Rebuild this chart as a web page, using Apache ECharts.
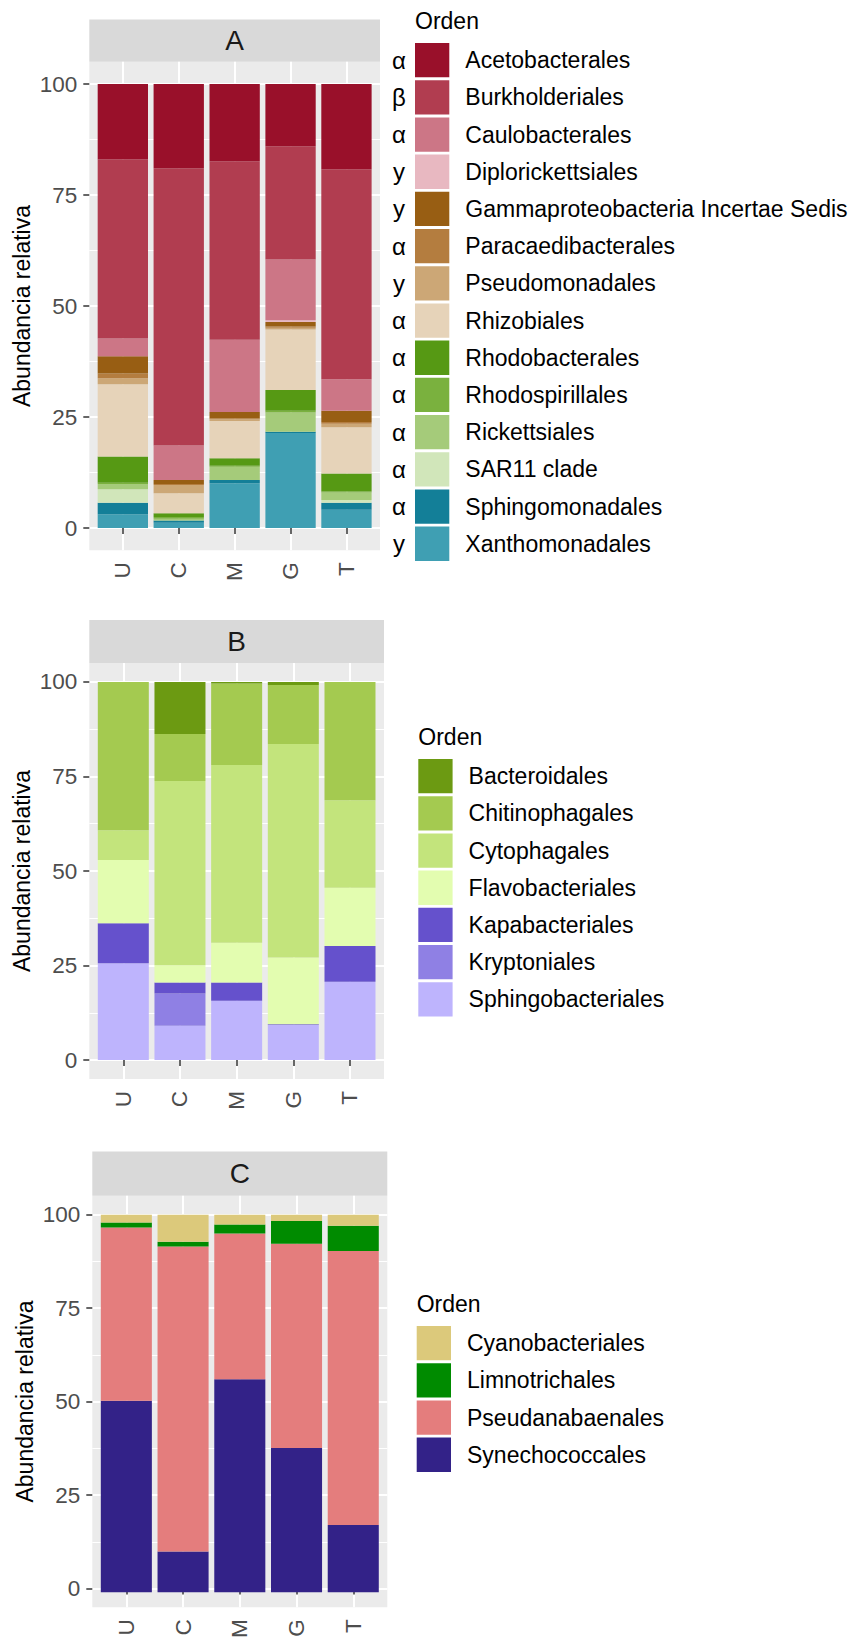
<!DOCTYPE html>
<html>
<head>
<meta charset="utf-8">
<title>Abundancia relativa por orden</title>
<script src="https://cdn.jsdelivr.net/npm/echarts@6/dist/echarts.min.js"></script>
<style>
  html, body { margin: 0; padding: 0; background: #ffffff; }
  #chart { width: 853px; height: 1641px; }
</style>
</head>
<body>
<div id="chart"></div>
<script>
// Sampling sites (x categories, same for all panels)
const sites = ['U', 'C', 'M', 'G', 'T'];
const yTicks = [0, 25, 50, 75, 100];
const yMinorTicks = [12.5, 37.5, 62.5, 87.5];

// ---- Panel A: Proteobacteria orders (legend order = top of stack first) ----
const ordersA = [
  'Acetobacterales', 'Burkholderiales', 'Caulobacterales', 'Diplorickettsiales',
  'Gammaproteobacteria Incertae Sedis', 'Paracaedibacterales', 'Pseudomonadales',
  'Rhizobiales', 'Rhodobacterales', 'Rhodospirillales', 'Rickettsiales',
  'SAR11 clade', 'Sphingomonadales', 'Xanthomonadales'
];
const classA = ['α', 'β', 'α', 'y', 'y', 'α', 'y', 'α', 'α', 'α', 'α', 'α', 'α', 'y'];
const colorsA = [
  '#99102A', '#B13D50', '#CC7686', '#E8B8C1', '#985E13', '#B47D3F', '#CCA776',
  '#E6D3B9', '#569914', '#7AB13E', '#A5CB7A', '#D1E6BA', '#137F98', '#3F9FB3'
];
const acetobacterales   = [17.0, 19.0, 17.4, 14.0, 19.2];
const burkholderiales   = [40.3, 62.4, 40.2, 25.5, 47.3];
const caulobacterales   = [4.0, 7.8, 16.3, 13.7, 7.1];
const diplorickettsiales = [0.0, 0.0, 0.0, 0.4, 0.0];
const gammaIncertaeSedis = [3.9, 0.9, 1.4, 1.0, 2.5];
const paracaedibacterales = [1.1, 0.2, 0.2, 0.3, 0.4];
const pseudomonadales   = [1.3, 1.9, 0.4, 0.4, 0.8];
const rhizobiales       = [16.3, 4.5, 8.4, 13.6, 10.4];
const rhodobacterales   = [5.9, 0.8, 1.7, 4.7, 4.1];
const rhodospirillales  = [0.3, 0.4, 0.2, 0.4, 0.2];
const rickettsiales     = [1.2, 0.4, 3.0, 4.3, 1.7];
const sar11Clade        = [3.0, 0.0, 0.0, 0.0, 0.6];
const sphingomonadales  = [2.6, 0.5, 0.7, 0.3, 1.6];
const xanthomonadales   = [3.1, 1.2, 10.1, 21.4, 4.1];
const valuesA = [
  acetobacterales, burkholderiales, caulobacterales, diplorickettsiales,
  gammaIncertaeSedis, paracaedibacterales, pseudomonadales, rhizobiales,
  rhodobacterales, rhodospirillales, rickettsiales, sar11Clade,
  sphingomonadales, xanthomonadales
];

// ---- Panel B: Bacteroidota orders ----
const ordersB = [
  'Bacteroidales', 'Chitinophagales', 'Cytophagales', 'Flavobacteriales',
  'Kapabacteriales', 'Kryptoniales', 'Sphingobacteriales'
];
const colorsB = ['#6C9A12', '#A4CA50', '#C3E47C', '#E3FDB0', '#6551CC', '#8F80E4', '#BEB4FD'];
const bacteroidales      = [0.0, 13.8, 0.4, 0.8, 0.0];
const chitinophagales    = [39.2, 12.4, 21.6, 15.6, 31.3];
const cytophagales       = [7.9, 48.7, 47.0, 56.5, 23.1];
const flavobacteriales   = [16.7, 4.6, 10.5, 17.6, 15.4];
const kapabacteriales    = [10.6, 2.9, 4.8, 0.2, 9.5];
const kryptoniales       = [0.0, 8.5, 0.0, 0.0, 0.0];
const sphingobacteriales = [25.6, 9.1, 15.7, 9.3, 20.7];
const valuesB = [
  bacteroidales, chitinophagales, cytophagales, flavobacteriales,
  kapabacteriales, kryptoniales, sphingobacteriales
];

// ---- Panel C: Cyanobacteria orders ----
const ordersC = ['Cyanobacteriales', 'Limnotrichales', 'Pseudanabaenales', 'Synechococcales'];
const colorsC = ['#DCC97B', '#008B00', '#E47D7D', '#332288'];
const cyanobacteriales = [2.1, 7.2, 2.6, 1.7, 2.9];
const limnotrichales   = [1.3, 1.2, 2.4, 6.0, 6.7];
const pseudanabaenales = [45.9, 80.8, 38.6, 54.1, 72.6];
const synechococcales  = [50.7, 10.8, 56.4, 38.2, 17.8];
const valuesC = [cyanobacteriales, limnotrichales, pseudanabaenales, synechococcales];

// ---- Layout ----
const FONT = '"Liberation Sans", Arial, Helvetica, sans-serif';
const AXIS_GREY = '#4D4D4D';
const panels = [
  { key: 'A', orders: ordersA, values: valuesA, colors: colorsA, classes: classA,
    left: 89.3, right: 380, stripTop: 19.5, top: 61.8, bottom: 550.2,
    legendLeft: 415, legendTop: 43, legendTitleY: 21.4 },
  { key: 'B', orders: ordersB, values: valuesB, colors: colorsB, classes: null,
    left: 89.3, right: 384, stripTop: 620, top: 663, bottom: 1079,
    legendLeft: 418.3, legendTop: 759, legendTitleY: 737 },
  { key: 'C', orders: ordersC, values: valuesC, colors: colorsC, classes: null,
    left: 92.3, right: 387.3, stripTop: 1151.5, top: 1195.8, bottom: 1611.2,
    legendLeft: 416.7, legendTop: 1326, legendTitleY: 1303.8 }
];
const KEY = 34.3;
const KEY_GAP = 2.9;
// discrete x scale spans 0.4 .. 5.6 (0.6 units of padding round the 5 sites)
const X_MIN = 0.4, X_MAX = 5.6;

const grid = [], xAxis = [], yAxis = [], series = [], legend = [], graphic = [];

panels.forEach((p, pi) => {
  const w = p.right - p.left;
  const h = p.bottom - p.top;
  const unit = w / (X_MAX - X_MIN);
  const gBack = pi * 2, gBars = pi * 2 + 1;

  // panel background, grid lines, ticks and labels
  grid.push({
    left: p.left, top: p.top, width: w, height: h,
    show: true, backgroundColor: '#EBEBEB', borderWidth: 0
  });
  // bars: one band per site, inset so band centres fall on 1..5
  grid.push({
    left: p.left + (1 - 0.5 - X_MIN) * unit, top: p.top, width: 5 * unit, height: h,
    show: false
  });

  xAxis.push({
    type: 'value', gridIndex: gBack, min: X_MIN, max: X_MAX,
    axisLine: { show: false },
    axisTick: { show: true, length: 6, customValues: [1, 2, 3, 4, 5],
                lineStyle: { color: '#333333', width: 1.5 } },
    axisLabel: {
      customValues: [1, 2, 3, 4, 5],
      formatter: v => sites[Math.round(v) - 1],
      rotate: 90, margin: 12, fontSize: 22.5, color: AXIS_GREY, fontFamily: FONT
    },
    splitLine: { show: true, lineStyle: { color: '#FFFFFF', width: 2 } }
  });
  xAxis.push({
    type: 'category', gridIndex: gBars, data: sites, boundaryGap: true,
    axisLine: { show: false }, axisTick: { show: false },
    axisLabel: { show: false }, splitLine: { show: false }
  });

  // major y axis: labels, ticks, title and major grid lines
  yAxis.push({
    type: 'value', gridIndex: gBack, min: -5, max: 105,
    name: 'Abundancia relativa', nameLocation: 'middle', nameGap: 56,
    nameTextStyle: { fontSize: 23, color: '#000000', fontFamily: FONT },
    axisLine: { show: false },
    axisTick: { show: true, length: 6, customValues: yTicks,
                lineStyle: { color: '#333333', width: 1.5 } },
    axisLabel: { customValues: yTicks, margin: 12, fontSize: 22.5,
                 color: AXIS_GREY, fontFamily: FONT },
    splitLine: { show: true, lineStyle: { color: '#FFFFFF', width: 2 } }
  });
  // minor y axis: only the minor grid lines
  yAxis.push({
    type: 'value', gridIndex: gBack, min: -5, max: 105,
    axisLine: { show: false },
    axisTick: { show: false, customValues: yMinorTicks },
    axisLabel: { show: false },
    splitLine: { show: true, lineStyle: { color: '#FFFFFF', width: 1 } }
  });
  // value axis of the bars, same range as the visible one
  const yBarsIndex = yAxis.length;
  yAxis.push({
    type: 'value', gridIndex: gBars, min: -5, max: 105,
    axisLine: { show: false }, axisTick: { show: false },
    axisLabel: { show: false }, splitLine: { show: false }
  });
  const xBarsIndex = xAxis.length - 1;

  // stacked bars: last legend entry sits at the bottom of the stack
  for (let i = p.orders.length - 1; i >= 0; i--) {
    series.push({
      name: p.orders[i], type: 'bar', stack: 'panel' + p.key,
      xAxisIndex: xBarsIndex, yAxisIndex: yBarsIndex,
      barWidth: '90%',
      data: p.values[i],
      itemStyle: { color: p.colors[i] },
      emphasis: { disabled: true }
    });
  }

  legend.push({
    orient: 'vertical', left: p.legendLeft, top: p.legendTop, padding: 0,
    itemWidth: KEY, itemHeight: KEY, itemGap: KEY_GAP, icon: 'rect',
    selectedMode: false, data: p.orders,
    textStyle: { fontSize: 23, color: '#000000', fontFamily: FONT, padding: [0, 0, 0, 11] }
  });

  // facet strip
  graphic.push({
    type: 'rect', left: p.left, top: p.stripTop, silent: true,
    shape: { width: w, height: p.top - p.stripTop },
    style: { fill: '#D9D9D9' }
  });
  graphic.push({
    type: 'text', x: p.left + w / 2, y: (p.stripTop + p.top) / 2, silent: true,
    style: { text: p.key, fill: '#1A1A1A', font: '28px ' + FONT,
             textAlign: 'center', textVerticalAlign: 'middle' }
  });

  // legend title
  graphic.push({
    type: 'text', x: p.legendLeft, y: p.legendTitleY, silent: true,
    style: { text: 'Orden', fill: '#000000', font: '23px ' + FONT,
             textAlign: 'left', textVerticalAlign: 'middle' }
  });

  // class markers next to the legend keys
  if (p.classes) {
    p.classes.forEach((c, i) => {
      graphic.push({
        type: 'text', x: p.legendLeft - 16, y: p.legendTop + i * (KEY + KEY_GAP) + KEY / 2,
        silent: true,
        style: { text: c, fill: '#000000', font: '24px ' + FONT,
                 textAlign: 'center', textVerticalAlign: 'middle' }
      });
    });
  }
});

const chart = echarts.init(document.getElementById('chart'), null, { renderer: 'svg' });
chart.setOption({
  backgroundColor: '#FFFFFF',
  animation: false,
  grid, xAxis, yAxis, series, legend, graphic
});
</script>
</body>
</html>
